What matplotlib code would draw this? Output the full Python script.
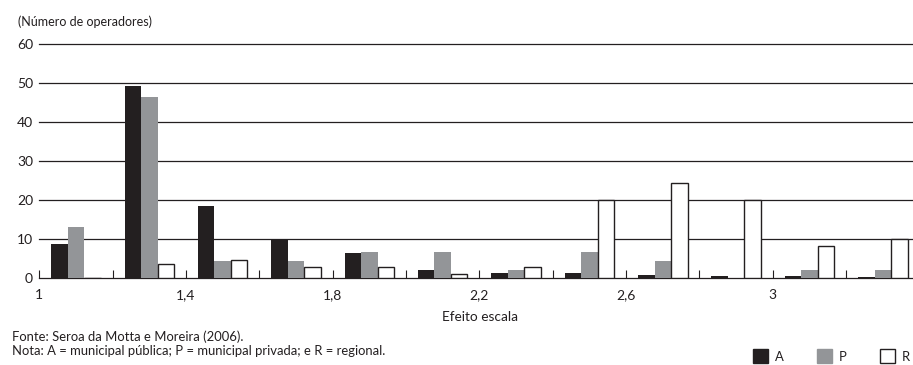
import matplotlib
matplotlib.use("Agg")
import matplotlib.pyplot as plt
from matplotlib.patches import Rectangle
import numpy as np

plt.rcParams["font.family"] = ["Lato", "DejaVu Sans"]
plt.rcParams["font.size"] = 9.4

# number of operators per scale-effect class (A, P, R)
groups = np.arange(12)
serie_a = [8.8, 49.3, 18.5, 10.0, 6.5, 2.1, 1.3, 1.3, 0.9, 0.5, 0.6, 0.4]
serie_p = [13.2, 46.5, 4.4, 4.4, 6.7, 6.7, 2.1, 6.7, 4.5, 0.0, 2.2, 2.2]
serie_r = [0.0, 3.7, 4.6, 2.8, 2.8, 1.0, 2.8, 20.0, 24.4, 20.0, 8.2, 10.0]
xtick_labels = ["1", "", "1,4", "", "1,8", "", "2,2", "", "2,6", "", "3", "", ""]
yticks = [0, 10, 20, 30, 40, 50, 60]
legend_names = ["A", "P", "R"]

DARK = "#231f20"
GRAY = "#939598"

W, H = 913, 365
fig = plt.figure(figsize=(W / 100, H / 100), dpi=100)
ax = fig.add_axes([39.3 / W, 86.7 / H, 880.2 / W, 234.0 / H])

bw = 0.225
ax.bar(groups + 0.5 - bw, serie_a, width=bw, color=DARK, zorder=3)
ax.bar(groups + 0.5, serie_p, width=bw, color=GRAY, zorder=3)
ax.bar(groups + 0.5 + bw, serie_r, width=bw, color="white",
       edgecolor=DARK, linewidth=1.0, zorder=3)

for v in yticks:
    ax.axhline(v, color=DARK, linewidth=0.9, zorder=1, clip_on=False)

ax.set_xlim(0, 12)
ax.set_ylim(0, 60)
ax.set_yticks(yticks)
ax.set_xticks(np.arange(13))
ax.set_xticklabels(xtick_labels)
for s in ["left", "right", "top", "bottom"]:
    ax.spines[s].set_visible(False)
ax.tick_params(axis="x", direction="in", length=5.5, width=0.8, color=DARK,
               pad=8, labelcolor=DARK, labelsize=10)
ax.tick_params(axis="y", length=0, pad=4.5, labelcolor=DARK, labelsize=10)

fig.text(18 / W, 1 - 26.5 / H, "(Número de operadores)", color=DARK,
         va="baseline", fontsize=9.0)
fig.text(480 / W, 1 - 321 / H, "Efeito escala", color=DARK, ha="center",
         va="baseline", fontsize=9.8)
fig.text(12 / W, 1 - 340.7 / H, "Fonte: Seroa da Motta e Moreira (2006).",
         color=DARK, va="baseline")
fig.text(12 / W, 1 - 355 / H,
         "Nota: A = municipal pública; P = municipal privada; e R = regional.",
         color=DARK, va="baseline")

# legend at the bottom right
sq_x = [753, 817, 880]
faces = [DARK, GRAY, "white"]
for x0, fc, name in zip(sq_x, faces, legend_names):
    fig.patches.append(Rectangle((x0 / W, 2 / H), 15 / W, 14 / H,
                                 transform=fig.transFigure, facecolor=fc,
                                 edgecolor=DARK if fc == "white" else fc,
                                 linewidth=1.0))
    fig.text((x0 + 22) / W, 1 - 361 / H, name, color=DARK, va="baseline")

fig.savefig("out.png", dpi=100)
